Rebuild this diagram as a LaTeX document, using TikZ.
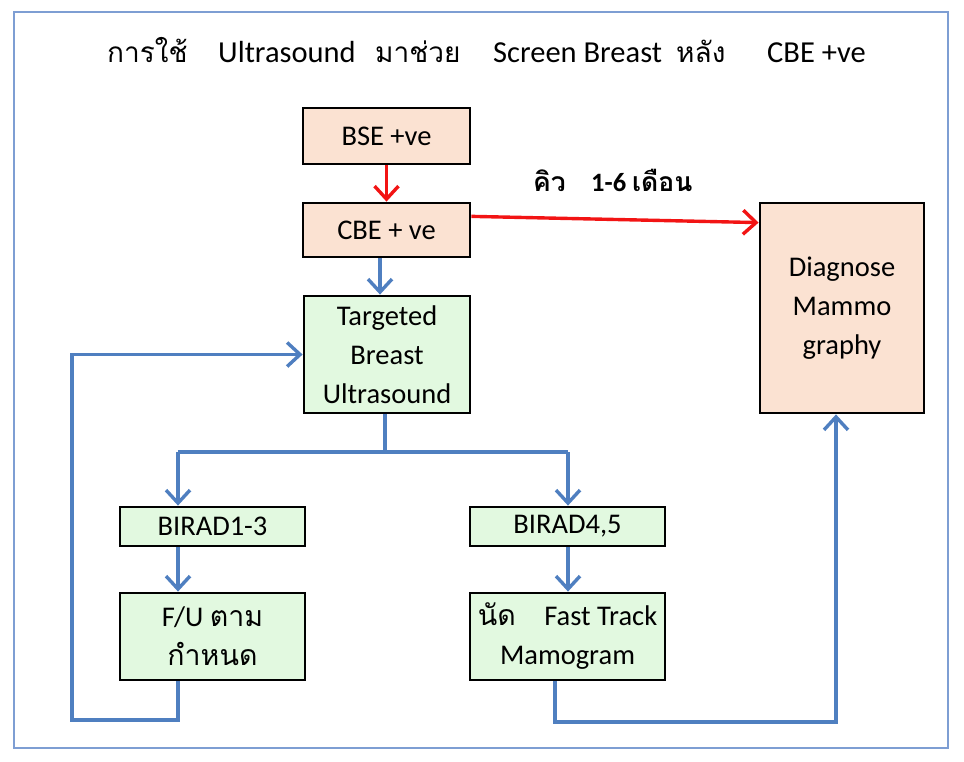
\documentclass[tikz,border=0pt]{standalone}
\usepackage{fontspec}
\setmainfont{Carlito}
\newfontfamily\thai[Script=Thai]{Loma}
\usetikzlibrary{arrows.meta,calc}
\definecolor{peach}{RGB}{251,226,210}
\definecolor{mint}{RGB}{226,249,224}
\definecolor{flowblue}{RGB}{79,127,192}
\definecolor{framecol}{RGB}{126,158,211}
\definecolor{flowred}{RGB}{242,20,20}
\begin{document}
\begin{tikzpicture}[x=1pt,y=-1pt,
  box/.style={draw=black,line width=2.8pt,inner sep=0pt,align=center,
    font=\fontsize{28.5}{39}\selectfont},
  pbox/.style={box,fill=peach},
  gbox/.style={box,fill=mint},
  ttl/.style={anchor=base west,inner sep=0pt,font=\fontsize{30.5}{34}\selectfont},
  lbl/.style={anchor=base west,inner sep=0pt,font=\fontsize{26.5}{30}\selectfont\bfseries},
  bl/.style={draw=flowblue,line width=3.6pt},
  blarr/.style={bl,-{Straight Barb[length=13pt,width=24pt,line width=3.4pt]}},
  redarr/.style={draw=flowred,line width=3.4pt,-{Straight Barb[length=13pt,width=24pt,line width=3.4pt]}}]
\useasboundingbox (0,0) rectangle (964,762);
\draw[framecol,line width=1.6pt] (14,12) rectangle (948,748);
% title
\node[ttl] (t1) at (107,63) {\thai\fontsize{28}{34}\selectfont การใช้};
\node[ttl] (t2) at (218,63) {Ultrasound};
\node[ttl] (t3) at (375,63) {\thai\fontsize{28}{34}\selectfont มาช่วย};
\node[ttl] (t4) at (493,63) {Screen Breast};
\node[ttl] (t5) at (676,63) {\thai\fontsize{28}{34}\selectfont หลัง};
\node[ttl] (t6) at (767,63) {CBE +ve};
% boxes
\node[pbox,minimum width=167pt,minimum height=56pt] (bse) at (386.5,136) {BSE +ve};
\node[pbox,minimum width=167pt,minimum height=54pt] (cbe) at (386.5,230) {CBE + ve};
\node[pbox,minimum width=164pt,minimum height=210pt] (diag) at (842,308) {Diagnose\\Mammo\\graphy};
\node[gbox,minimum width=166pt,minimum height=117pt] (tbu) at (387,354.5) {Targeted\\Breast\\Ultrasound};
\node[gbox,minimum width=185pt,minimum height=39pt] (b13) at (212.5,526.5) {BIRAD1-3};
\node[gbox,minimum width=195pt,minimum height=39pt] (b45) at (567.5,526.5) {BIRAD4,5};
\node[gbox,minimum width=185pt,minimum height=87pt] (fu) at (212.5,636.5) {F/U {\thai ตาม}\\{\thai กำหนด}};
\node[gbox,minimum width=195pt,minimum height=87pt] (ft) at (567.5,636.5) {{\thai นัด}\hspace{1.0em}Fast Track\\Mamogram};
% queue label
\node[lbl] (q1) at (533,192) {\thai คิว};
\node[lbl] (q2) at (591,192) {1-6 {\thai เดือน}};
% red arrows
\draw[redarr] (bse.south) -- (cbe.north);
\draw[redarr] ($(cbe.north east)!0.26!(cbe.south east)$) -- ($(diag.north west)+(0,21)$);
% blue connectors
\coordinate (sp) at (385,452);
\coordinate (j1) at (178,452);
\coordinate (j2) at (568,452);
\coordinate (lb) at (72,720);
\coordinate (rb) at (836,722);
\coordinate (fx) at (555,722);
\draw[blarr] (cbe.south -| 380,0) -- (tbu.north -| 380,0);
\draw[bl] (tbu.south -| sp) -- (sp);
\draw[bl] (j1) -- (j2);
\draw[blarr] (j1) -- (j1 |- b13.north);
\draw[blarr] (j2) -- (j2 |- b45.north);
\draw[blarr] (j1 |- b13.south) -- (j1 |- fu.north);
\draw[blarr] (j2 |- b45.south) -- (j2 |- ft.north);
\draw[blarr] (j1 |- fu.south) -- (j1 |- lb) -- (lb) -- (lb |- tbu.west) -- (tbu.west);
\draw[blarr] (fx |- ft.south) -- (fx) -- (rb) -- (rb |- diag.south);
\end{tikzpicture}
\end{document}
